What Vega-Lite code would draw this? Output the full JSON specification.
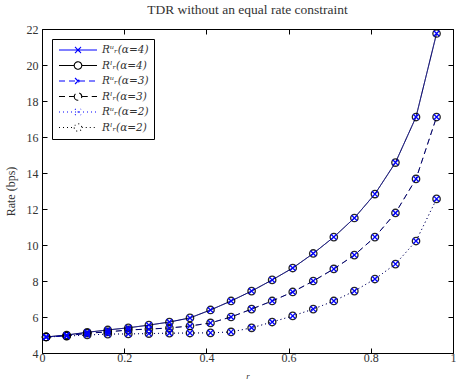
{
  "$schema": "https://vega.github.io/schema/vega-lite/v6.json",
  "autosize": "none",
  "width": 411,
  "height": 324,
  "padding": {"left": 42, "top": 29, "right": 3, "bottom": 28},
  "background": "white",
  "config": {
    "font": "Liberation Serif",
    "view": {"stroke": "black", "strokeWidth": 1},
    "axis": {
      "grid": false,
      "domain": false,
      "tickSize": -5,
      "tickColor": "black",
      "labelFont": "Liberation Serif",
      "labelFontSize": 12,
      "labelColor": "#333",
      "titleFont": "Liberation Serif",
      "titleFontWeight": "normal",
      "titleColor": "#333"
    },
    "title": {"font": "Liberation Serif", "fontSize": 13.5, "fontWeight": "normal", "color": "#333", "offset": 7}
  },
  "title": "TDR without an equal rate constraint",
  "data": {
    "values": [
      {"r": 0.01, "y": 4.89, "s": "l4"}, {"r": 0.06, "y": 5.0, "s": "l4"}, {"r": 0.11, "y": 5.15, "s": "l4"}, {"r": 0.16, "y": 5.28, "s": "l4"}, {"r": 0.21, "y": 5.4, "s": "l4"}, {"r": 0.26, "y": 5.55, "s": "l4"}, {"r": 0.31, "y": 5.72, "s": "l4"}, {"r": 0.36, "y": 5.95, "s": "l4"}, {"r": 0.41, "y": 6.39, "s": "l4"}, {"r": 0.46, "y": 6.89, "s": "l4"},
      {"r": 0.51, "y": 7.44, "s": "l4"}, {"r": 0.56, "y": 8.06, "s": "l4"}, {"r": 0.61, "y": 8.72, "s": "l4"}, {"r": 0.66, "y": 9.53, "s": "l4"}, {"r": 0.71, "y": 10.44, "s": "l4"}, {"r": 0.76, "y": 11.5, "s": "l4"}, {"r": 0.81, "y": 12.83, "s": "l4"}, {"r": 0.86, "y": 14.58, "s": "l4"}, {"r": 0.91, "y": 17.11, "s": "l4"}, {"r": 0.96, "y": 21.75, "s": "l4"},
      {"r": 0.01, "y": 4.89, "s": "l3"}, {"r": 0.06, "y": 4.95, "s": "l3"}, {"r": 0.11, "y": 5.1, "s": "l3"}, {"r": 0.16, "y": 5.17, "s": "l3"}, {"r": 0.21, "y": 5.28, "s": "l3"}, {"r": 0.26, "y": 5.33, "s": "l3"}, {"r": 0.31, "y": 5.39, "s": "l3"}, {"r": 0.36, "y": 5.5, "s": "l3"}, {"r": 0.41, "y": 5.67, "s": "l3"}, {"r": 0.46, "y": 6.0, "s": "l3"},
      {"r": 0.51, "y": 6.44, "s": "l3"}, {"r": 0.56, "y": 6.89, "s": "l3"}, {"r": 0.61, "y": 7.39, "s": "l3"}, {"r": 0.66, "y": 8.0, "s": "l3"}, {"r": 0.71, "y": 8.67, "s": "l3"}, {"r": 0.76, "y": 9.44, "s": "l3"}, {"r": 0.81, "y": 10.44, "s": "l3"}, {"r": 0.86, "y": 11.78, "s": "l3"}, {"r": 0.91, "y": 13.67, "s": "l3"}, {"r": 0.96, "y": 17.11, "s": "l3"},
      {"r": 0.01, "y": 4.89, "s": "l2"}, {"r": 0.06, "y": 4.94, "s": "l2"}, {"r": 0.11, "y": 5.0, "s": "l2"}, {"r": 0.16, "y": 5.05, "s": "l2"}, {"r": 0.21, "y": 5.06, "s": "l2"}, {"r": 0.26, "y": 5.08, "s": "l2"}, {"r": 0.31, "y": 5.1, "s": "l2"}, {"r": 0.36, "y": 5.11, "s": "l2"}, {"r": 0.41, "y": 5.12, "s": "l2"}, {"r": 0.46, "y": 5.17, "s": "l2"},
      {"r": 0.51, "y": 5.4, "s": "l2"}, {"r": 0.56, "y": 5.72, "s": "l2"}, {"r": 0.61, "y": 6.06, "s": "l2"}, {"r": 0.66, "y": 6.44, "s": "l2"}, {"r": 0.71, "y": 6.89, "s": "l2"}, {"r": 0.76, "y": 7.44, "s": "l2"}, {"r": 0.81, "y": 8.11, "s": "l2"}, {"r": 0.86, "y": 8.94, "s": "l2"}, {"r": 0.91, "y": 10.22, "s": "l2"}, {"r": 0.96, "y": 12.56, "s": "l2"},
      {"r": 0.01, "y": 4.89, "s": "u4"}, {"r": 0.06, "y": 5.0, "s": "u4"}, {"r": 0.11, "y": 5.15, "s": "u4"}, {"r": 0.16, "y": 5.28, "s": "u4"}, {"r": 0.21, "y": 5.4, "s": "u4"}, {"r": 0.26, "y": 5.55, "s": "u4"}, {"r": 0.31, "y": 5.72, "s": "u4"}, {"r": 0.36, "y": 5.95, "s": "u4"}, {"r": 0.41, "y": 6.39, "s": "u4"}, {"r": 0.46, "y": 6.89, "s": "u4"},
      {"r": 0.51, "y": 7.44, "s": "u4"}, {"r": 0.56, "y": 8.06, "s": "u4"}, {"r": 0.61, "y": 8.72, "s": "u4"}, {"r": 0.66, "y": 9.53, "s": "u4"}, {"r": 0.71, "y": 10.44, "s": "u4"}, {"r": 0.76, "y": 11.5, "s": "u4"}, {"r": 0.81, "y": 12.83, "s": "u4"}, {"r": 0.86, "y": 14.58, "s": "u4"}, {"r": 0.91, "y": 17.11, "s": "u4"}, {"r": 0.96, "y": 21.75, "s": "u4"},
      {"r": 0.01, "y": 4.89, "s": "u3"}, {"r": 0.06, "y": 4.95, "s": "u3"}, {"r": 0.11, "y": 5.1, "s": "u3"}, {"r": 0.16, "y": 5.17, "s": "u3"}, {"r": 0.21, "y": 5.28, "s": "u3"}, {"r": 0.26, "y": 5.33, "s": "u3"}, {"r": 0.31, "y": 5.39, "s": "u3"}, {"r": 0.36, "y": 5.5, "s": "u3"}, {"r": 0.41, "y": 5.67, "s": "u3"}, {"r": 0.46, "y": 6.0, "s": "u3"},
      {"r": 0.51, "y": 6.44, "s": "u3"}, {"r": 0.56, "y": 6.89, "s": "u3"}, {"r": 0.61, "y": 7.39, "s": "u3"}, {"r": 0.66, "y": 8.0, "s": "u3"}, {"r": 0.71, "y": 8.67, "s": "u3"}, {"r": 0.76, "y": 9.44, "s": "u3"}, {"r": 0.81, "y": 10.44, "s": "u3"}, {"r": 0.86, "y": 11.78, "s": "u3"}, {"r": 0.91, "y": 13.67, "s": "u3"}, {"r": 0.96, "y": 17.11, "s": "u3"},
      {"r": 0.01, "y": 4.89, "s": "u2"}, {"r": 0.06, "y": 4.94, "s": "u2"}, {"r": 0.11, "y": 5.0, "s": "u2"}, {"r": 0.16, "y": 5.05, "s": "u2"}, {"r": 0.21, "y": 5.06, "s": "u2"}, {"r": 0.26, "y": 5.08, "s": "u2"}, {"r": 0.31, "y": 5.1, "s": "u2"}, {"r": 0.36, "y": 5.11, "s": "u2"}, {"r": 0.41, "y": 5.12, "s": "u2"}, {"r": 0.46, "y": 5.17, "s": "u2"},
      {"r": 0.51, "y": 5.4, "s": "u2"}, {"r": 0.56, "y": 5.72, "s": "u2"}, {"r": 0.61, "y": 6.06, "s": "u2"}, {"r": 0.66, "y": 6.44, "s": "u2"}, {"r": 0.71, "y": 6.89, "s": "u2"}, {"r": 0.76, "y": 7.44, "s": "u2"}, {"r": 0.81, "y": 8.11, "s": "u2"}, {"r": 0.86, "y": 8.94, "s": "u2"}, {"r": 0.91, "y": 10.22, "s": "u2"}, {"r": 0.96, "y": 12.56, "s": "u2"}
    ]
  },
  "resolve": {"axis": {"x": "independent", "y": "independent"}},
  "layer": [
    {
      "transform": [{"filter": "datum.s[0] == 'l'"}],
      "mark": {"type": "line", "strokeWidth": 1},
      "encoding": {
        "x": {"field": "r", "type": "quantitative", "scale": {"domain": [0, 1], "nice": false}, "axis": {"values": [0, 0.2, 0.4, 0.6, 0.8, 1], "title": "r", "titleFontStyle": "italic", "titleFontSize": 9, "titlePadding": 8, "labelPadding": 4, "labelFlush": false, "labelExpr": "datum.value == 0 ? '0' : datum.value == 1 ? '1' : format(datum.value, '.1f')"}},
        "y": {"field": "y", "type": "quantitative", "scale": {"domain": [4, 22], "nice": false}, "axis": {"values": [4, 6, 8, 10, 12, 14, 16, 18, 20, 22], "title": "Rate (bps)", "titleFontSize": 12, "titlePadding": 9, "labelPadding": 9}},
        "color": {"field": "s", "type": "nominal", "scale": {"domain": ["u4", "l4", "u3", "l3", "u2", "l2"], "range": ["#0000ff", "#000000", "#0000ff", "#000000", "#0000ff", "#000000"]}, "legend": {
          "title": null,
          "orient": "top-left",
          "offset": 10,
          "padding": 5,
          "strokeColor": "black",
          "fillColor": "white",
          "labelFont": "DejaVu Serif",
          "labelFontStyle": "italic",
          "labelFontSize": 10.5,
          "labelColor": "#333",
          "symbolSize": 100,
          "symbolStrokeWidth": 1.1,
          "symbolOffset": 15,
          "labelOffset": 18,
          "rowPadding": 3.5,
          "labelExpr": "'R' + (datum.value[0] == 'u' ? 'ᵘ' : 'ˡ') + 'ᵣ(α=' + datum.value[1] + ')'",
          "encode": {"symbols": {"update": {
            "shape": {"signal": "datum.value[0] == 'u' ? 'M-3.8,0L3.8,0M-0.6,-0.6L0.6,0.6M-0.6,0.6L0.6,-0.6' : 'M-3.8,0L-0.75,0M0.75,0L3.8,0M-0.75,0A0.75,0.75 0 1,0 0.75,0A0.75,0.75 0 1,0 -0.75,0'"},
            "strokeDash": {"signal": "datum.value[1] == '4' ? [1, 0] : datum.value[1] == '3' ? [6, 4] : [1, 3]"},
            "fill": {"value": "transparent"},
            "opacity": {"value": 1}
          }}}
        }},
        "strokeDash": {"field": "s", "type": "nominal", "scale": {"domain": ["u4", "l4", "u3", "l3", "u2", "l2"], "range": [[1, 0], [1, 0], [6, 4], [6, 4], [1, 3], [1, 3]]}, "legend": null}
      }
    },
    {
      "transform": [{"filter": "datum.s[0] == 'u'"}],
      "mark": {"type": "line", "strokeWidth": 1, "opacity": 0.45},
      "encoding": {
        "x": {"field": "r", "type": "quantitative", "axis": {"orient": "top", "values": [0, 0.2, 0.4, 0.6, 0.8, 1], "labels": false, "title": null}},
        "y": {"field": "y", "type": "quantitative", "axis": {"orient": "right", "values": [4, 6, 8, 10, 12, 14, 16, 18, 20, 22], "labels": false, "title": null}},
        "color": {"field": "s", "type": "nominal"},
        "strokeDash": {"field": "s", "type": "nominal", "legend": null}
      }
    },
    {
      "transform": [{"filter": "datum.s[0] == 'l'"}],
      "mark": {"type": "point", "shape": "circle", "filled": false, "strokeWidth": 1.3, "size": 55, "opacity": 0.85},
      "encoding": {
        "x": {"field": "r", "type": "quantitative", "axis": null},
        "y": {"field": "y", "type": "quantitative", "axis": null},
        "color": {"field": "s", "type": "nominal"}
      }
    },
    {
      "transform": [{"filter": "datum.s[0] == 'u'"}],
      "mark": {"type": "point", "shape": "M-0.75,-0.75L0.75,0.75M-0.75,0.75L0.75,-0.75", "filled": false, "strokeWidth": 1.3, "size": 55, "opacity": 1},
      "encoding": {
        "x": {"field": "r", "type": "quantitative", "axis": null},
        "y": {"field": "y", "type": "quantitative", "axis": null},
        "color": {"field": "s", "type": "nominal"}
      }
    }
  ]
}
